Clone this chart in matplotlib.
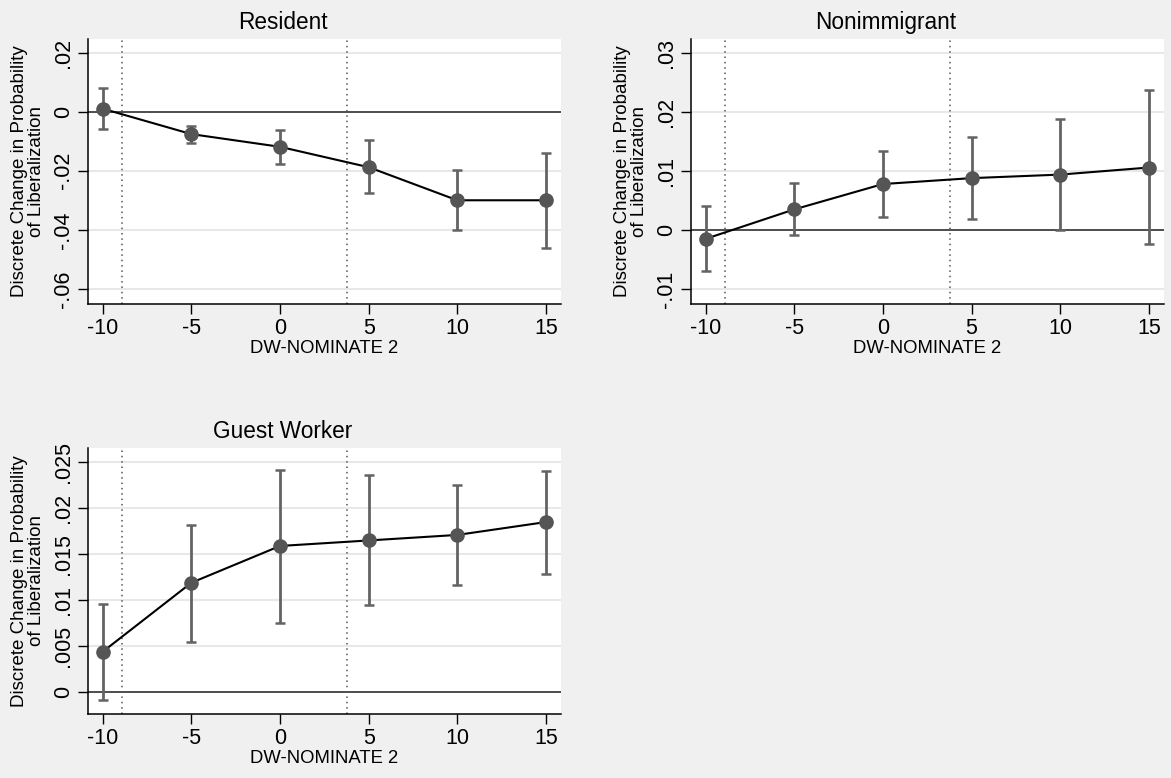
import matplotlib.pyplot as plt

plt.rcParams['font.family'] = ['Liberation Sans', 'DejaVu Sans']

# x positions (DW-NOMINATE 2)
x_vals = [-10, -5, 0, 5, 10, 15]
x_ticks = [-10, -5, 0, 5, 10, 15]

# Resident
res_est = [0.0010, -0.0076, -0.0119, -0.0188, -0.0300, -0.0300]
res_hi = [0.0081, -0.0047, -0.0062, -0.0097, -0.0196, -0.0139]
res_lo = [-0.0060, -0.0105, -0.0176, -0.0275, -0.0401, -0.0460]
res_ticks = [0.02, 0, -0.02, -0.04, -0.06]
res_labels = ['.02', '0', '-.02', '-.04', '-.06']

# Nonimmigrant
non_est = [-0.0015, 0.0035, 0.0078, 0.0088, 0.0094, 0.0106]
non_hi = [0.0040, 0.0080, 0.0134, 0.0158, 0.0189, 0.0238]
non_lo = [-0.0070, -0.0009, 0.0022, 0.0019, 0.0000, -0.0024]
non_ticks = [0.03, 0.02, 0.01, 0, -0.01]
non_labels = ['.03', '.02', '.01', '0', '-.01']

# Guest Worker
gw_est = [0.0044, 0.0119, 0.0159, 0.0165, 0.0171, 0.0185]
gw_hi = [0.0096, 0.0182, 0.0242, 0.0236, 0.0225, 0.0241]
gw_lo = [-0.0008, 0.0055, 0.0075, 0.0095, 0.0117, 0.0129]
gw_ticks = [0.025, 0.02, 0.015, 0.01, 0.005, 0]
gw_labels = ['.025', '.02', '.015', '.01', '.005', '0']

# vertical reference lines
vlines = [-8.92, 3.78]

bg = '#f0f0f0'
fig = plt.figure(figsize=(11.71, 7.78), dpi=100, facecolor=bg)


def panel(rect, title, est, lo, hi, yticks, ylabels, ylim):
    ax = fig.add_axes(rect)
    ax.set_facecolor('white')
    for yt in yticks:
        if yt != 0:
            ax.axhline(yt, color='#e8e8e8', lw=1.5, zorder=0)
    ax.axhline(0, color='#4d4d4d', lw=1.4, zorder=1)
    for v in vlines:
        ax.axvline(v, color='#555555', lw=1.1, ls=(0, (1, 2.5)), zorder=1)
    ax.errorbar(x_vals, est,
                yerr=[[e - l for e, l in zip(est, lo)], [h - e for e, h in zip(est, hi)]],
                fmt='none', ecolor='#636363', elinewidth=2, capsize=3.5, capthick=1.8, zorder=2)
    ax.plot(x_vals, est, color='black', lw=1.5, zorder=3)
    ax.plot(x_vals, est, 'o', color='#555555', ms=9.5, zorder=4)
    ax.set_xlim(-10.83, 15.85)
    ax.set_ylim(*ylim)
    ax.set_xticks(x_ticks)
    ax.set_xticklabels([str(t) for t in x_ticks], fontsize=15.5)
    ax.set_yticks(yticks)
    ax.set_yticklabels(ylabels, fontsize=15.5, rotation=90, va='center')
    ax.tick_params(direction='out', length=7, width=1, pad=3)
    for s in ['top', 'right']:
        ax.spines[s].set_visible(False)
    ax.spines['left'].set_linewidth(1.1)
    ax.spines['bottom'].set_linewidth(1.1)
    # stata centres the title over the whole panel, not the plot area
    ax.set_title(title, fontsize=16.3, pad=7, x=0.412)
    ax.set_xlabel('DW-NOMINATE 2', fontsize=13.3, labelpad=1)
    ax.set_ylabel('Discrete Change in Probability\nof Liberalization', fontsize=13.5,
                  linespacing=1.0, labelpad=6)
    return ax


panel([0.0751, 0.6093, 0.404, 0.3406], 'Resident', res_est, res_lo, res_hi,
      res_ticks, res_labels, (-0.0651, 0.0246))
panel([0.590, 0.6093, 0.404, 0.3406], 'Nonimmigrant', non_est, non_lo, non_hi,
      non_ticks, non_labels, (-0.01254, 0.0324))
panel([0.0751, 0.0823, 0.404, 0.342], 'Guest Worker', gw_est, gw_lo, gw_hi,
      gw_ticks, gw_labels, (-0.00236, 0.02656))

fig.savefig('out.png', dpi=100, facecolor=bg)
